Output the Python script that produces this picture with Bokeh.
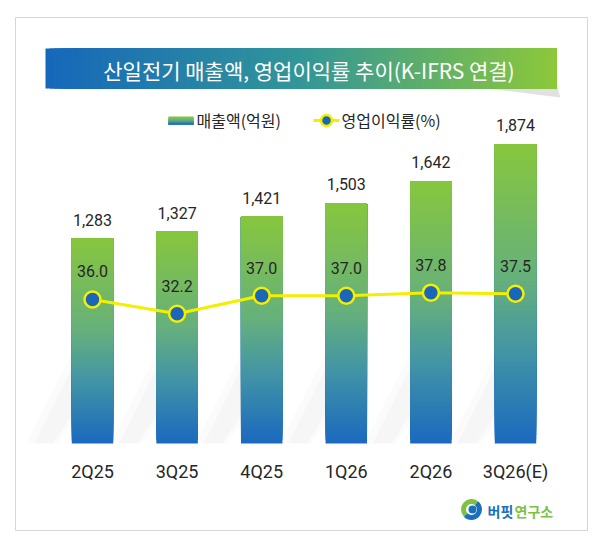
from bokeh.plotting import figure
from bokeh.models import Range1d
from bokeh.embed import file_html
from bokeh.resources import INLINE
from bokeh.core.properties import value

# ---------------- data ----------------
categories = ["2Q25", "3Q25", "4Q25", "1Q26", "2Q26", "3Q26(E)"]
revenue = [1283, 1327, 1421, 1503, 1642, 1874]          # 매출액(억원)
op_margin = [36.0, 32.2, 37.0, 37.0, 37.8, 37.5]        # 영업이익률(%)
revenue_labels = ["1,283", "1,327", "1,421", "1,503", "1,642", "1,874"]
margin_labels = ["36.0", "32.2", "37.0", "37.0", "37.8", "37.5"]
title_text = "산일전기 매출액, 영업이익률 추이(K-IFRS 연결)"
legend_bar = "매출액(억원)"
legend_line = "영업이익률(%)"

# ---------------- layout (canvas pixels) ----------------
W, H = 591, 531
KR = value("Noto Sans CJK KR")
NUM = value("Roboto")

pitch = 84.6
first_cx = 92
base_y = 443                # from top
px_per_unit = 0.1597
pct_ref, pct_ref_y, px_per_pct = 36.25, 298, 3.77

x_start = -first_cx / pitch
x_end = (W - first_cx) / pitch
y_start = -(H - base_y) / px_per_unit
y_end = base_y / px_per_unit

p = figure(width=W, height=H, x_range=Range1d(x_start, x_end),
           y_range=Range1d(y_start, y_end), output_backend="svg",
           toolbar_location=None, min_border=0, title=None,
           x_axis_location=None, y_axis_location=None)
p.grid.visible = False
p.outline_line_color = None
p.background_fill_color = "white"
p.border_fill_color = "white"
p.extra_x_ranges = {"px": Range1d(0, W)}
p.extra_y_ranges = {"px": Range1d(H, 0),
                    "pct": Range1d(pct_ref - (H - pct_ref_y) / px_per_pct,
                                   pct_ref + pct_ref_y / px_per_pct)}
PX = dict(x_range_name="px", y_range_name="px")


def lerp_color(stops, t):
    for (t0, c0), (t1, c1) in zip(stops, stops[1:]):
        if t <= t1:
            f = 0 if t1 == t0 else (t - t0) / (t1 - t0)
            r, g, b = (round(c0[k] + (c1[k] - c0[k]) * f) for k in range(3))
            return "#%02x%02x%02x" % (r, g, b)
    c = stops[-1][1]
    return "#%02x%02x%02x" % c


bar_stops = [(0.0, (27, 106, 190)), (0.3, (66, 148, 166)),
             (0.55, (102, 176, 124)), (1.0, (134, 198, 62))]
title_stops = [(0.0, (22, 104, 186)), (0.5, (50, 150, 152)),
               (1.0, (140, 200, 58))]

# frame border
p.quad(left=15, right=587, top=17, bottom=530,
       fill_color=None, line_color="#d6d6d6", line_width=1, **PX)

# title bar shadow + gradient bar
p.patch(x=[470, 556, 560, 520], y=[86, 84, 97, 92],
        fill_color="#9a9a9a", fill_alpha=0.3, line_color=None, **PX)
tb_l, tb_r, tb_t, tb_b = 45, 556, 48, 88
n_t = 120
tl, tr, tc = [], [], []
for k in range(n_t):
    tl.append(tb_l + (tb_r - tb_l) * k / n_t)
    tr.append(tb_r)
    tc.append(lerp_color(title_stops, k / (n_t - 1)))
p.quad(left=tl, right=tr, top=tb_t, bottom=tb_b, fill_color=tc,
       line_color=None, **PX)
p.text(x=[(tb_l + tb_r) / 2 + 8], y=[(tb_t + tb_b) / 2 + 1], text=[title_text],
       text_font=KR, text_font_size="21px", text_color="white",
       text_align="center", text_baseline="middle", **PX)

# legend
n_s = 10
sw_t, sw_b = 116, 124
p.quad(left=168, right=193,
       top=[sw_t + (sw_b - sw_t) * k / n_s for k in range(n_s)],
       bottom=sw_b,
       fill_color=[lerp_color(bar_stops, 1 - k / (n_s - 1)) for k in range(n_s)],
       line_color=None, **PX)
p.text(x=[196], y=[119], text=[legend_bar], text_font=KR,
       text_font_size="16px", text_color="#262626", text_baseline="middle", **PX)
p.line(x=[313, 339], y=[120, 120], line_color="#f4ee00", line_width=3, **PX)
p.scatter(x=[326], y=[120], size=11, fill_color="#1a66b8",
          line_color="#f4ee00", line_width=2.5, **PX)
p.text(x=[341], y=[119], text=[legend_line], text_font=KR,
       text_font_size="16px", text_color="#262626", text_baseline="middle", **PX)

# bar shadows (soft diagonal)
idx = list(range(len(categories)))
bw = 0.49
for (h1, h2, dx, w, a) in [(560, 120, 0.18, 0.36, 0.035), (470, 180, 0.22, 0.22, 0.045)]:
    xs, ys = [], []
    for i in idx:
        L = i - bw / 2
        xs.append([L, L, L - dx, L - dx - w])
        ys.append([h1, h2, 0, 0])
    p.patches(xs=xs, ys=ys, fill_color="#8a8a8a", fill_alpha=a, line_color=None)

# gradient bars (stacked slices drawn from bottom up)
n_b = 70
bx, bb, bt, bc = [], [], [], []
for i, v in zip(idx, revenue):
    for k in range(n_b):
        bx.append(i)
        bb.append(v * k / n_b)
        bt.append(v)
        bc.append(lerp_color(bar_stops, k / (n_b - 1)))
p.vbar(x=bx, bottom=bb, top=bt, width=bw, fill_color=bc, line_color=None)

# bar value labels
p.text(x=idx, y=revenue, text=revenue_labels, text_font=NUM,
       text_font_size="16px", text_color="#262626", text_align="center",
       text_baseline="middle", y_offset=-19)

# margin line
p.line(x=idx, y=op_margin, y_range_name="pct", line_color="#f4ee00",
       line_width=3)
p.scatter(x=idx, y=op_margin, y_range_name="pct", size=16,
          fill_color="#1a66b8", line_color="#f4ee00", line_width=2.5)
p.text(x=idx, y=op_margin, y_range_name="pct", text=margin_labels,
       text_font=NUM, text_font_size="16px", text_color="#262626",
       text_align="center", text_baseline="middle", y_offset=-28)

# category labels
p.text(x=idx, y=[471] * len(idx), y_range_name="px", text=categories,
       text_font=NUM, text_font_size="18px", text_color="#262626",
       text_align="center", text_baseline="middle")

# logo
cx, cy = 471, 509
p.annular_wedge(x=[cx], y=[cy], inner_radius=5.5, outer_radius=10.5,
                start_angle=[0.9], end_angle=[3.9], fill_color="#7dc242",
                line_color=None, **PX)
p.annular_wedge(x=[cx], y=[cy], inner_radius=5.5, outer_radius=10.5,
                start_angle=[3.9], end_angle=[0.9 + 6.283], fill_color="#1c6fbc",
                line_color=None, **PX)
p.scatter(x=[cx + 1], y=[cy], size=8, fill_color="#1c6fbc", line_color=None, **PX)
p.text(x=[487], y=[510], text=["버핏"], text_font=KR,
       text_font_size="14px", text_font_style="bold", text_color="#1c6fbc",
       text_baseline="middle", **PX)
p.text(x=[514], y=[510], text=["연구소"], text_font=KR,
       text_font_size="14px", text_font_style="bold", text_color="#7dc242",
       text_baseline="middle", **PX)

open("out.html", "w").write(file_html(p, INLINE))
